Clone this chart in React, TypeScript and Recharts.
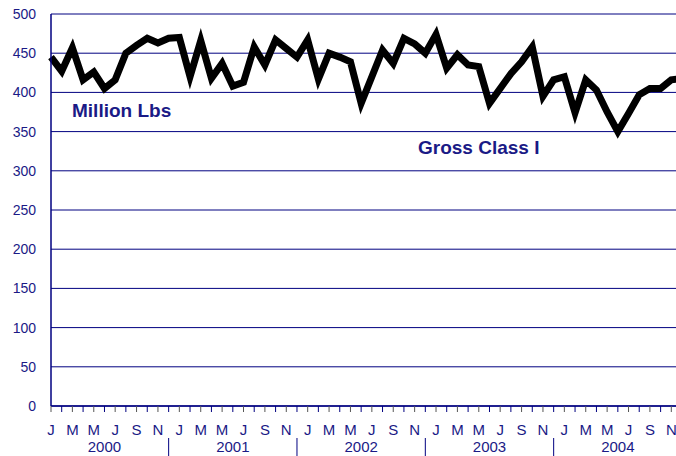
import { LineChart, Line, XAxis, YAxis, CartesianGrid } from "recharts"

const years = ["2000", "2001", "2002", "2003", "2004"]
const monthLetters = ["J", "F", "M", "A", "M", "J", "J", "A", "S", "O", "N", "D"]
const yTicks = [0, 50, 100, 150, 200, 250, 300, 350, 400, 450, 500]

// Gross Class I, million lbs, Jan 2000 - Dec 2004
const grossClassI = [
  445, 427, 457, 416, 426, 405, 416, 450, 460, 469, 463, 469,
  470, 420, 466, 418, 437, 408, 413, 458, 435, 467, 456, 445,
  467, 417, 450, 445, 439, 386, 420, 454, 437, 469, 462, 450,
  474, 431, 448, 435, 433, 386, 405, 424, 439, 458, 395, 416,
  420, 374, 416, 403, 375, 350, 373, 397, 405, 405, 416, 418,
]

const data = grossClassI.map((v, i) => ({
  m: monthLetters[i % 12],
  year: years[Math.floor(i / 12)],
  value: v,
}))

const navy = "#000080"
const textColor = "#1a1a86"
const font = "Arial, 'Liberation Sans', sans-serif"

function YTick(props: any) {
  const { y, payload } = props
  return (
    <text x={36} y={y + 5} textAnchor="end" fontSize={14} fontFamily={font} fill={textColor}>
      {payload.value}
    </text>
  )
}

function XTick(props: any) {
  const { x, y, payload } = props
  const i = props.index ?? payload.index
  const row = data[i]
  return (
    <g>
      <line x1={x} x2={x} y1={y} y2={y + 6} stroke={i % 2 === 0 ? "#555" : navy} strokeWidth={1} />
      {i % 2 === 0 && (
        <text x={x} y={435} textAnchor="middle" fontSize={15} fontFamily={font} fill={textColor}>
          {row.m}
        </text>
      )}
      {i % 12 === 5 && (
        <text x={x} y={452} textAnchor="middle" fontSize={15} fontFamily={font} fill={textColor}>
          {row.year}
        </text>
      )}
      {i % 12 === 11 && <line x1={x} x2={x} y1={438} y2={456} stroke={navy} strokeWidth={1} />}
    </g>
  )
}

const labelStyle = {
  position: "absolute" as const,
  fontFamily: font,
  fontWeight: 700,
  fontSize: 19,
  lineHeight: "19px",
  color: textColor,
  whiteSpace: "nowrap" as const,
}

export default function App() {
  return (
    <div style={{ position: "absolute", left: 0, top: 0, width: 676, height: 456, overflow: "hidden", background: "#fff" }}>
      <LineChart width={700} height={456} data={data} margin={{ top: 14, right: 18, bottom: 0, left: 0 }}>
        <CartesianGrid vertical={false} stroke={navy} strokeWidth={1} />
        <XAxis
          dataKey="m"
          interval={0}
          height={50}
          tickSize={0}
          tickMargin={0}
          tickLine={false}
          axisLine={{ stroke: navy, strokeWidth: 1.5 }}
          tick={<XTick />}
        />
        <YAxis
          domain={[0, 500]}
          ticks={yTicks}
          width={51}
          tickLine={false}
          axisLine={{ stroke: navy, strokeWidth: 1.5 }}
          tick={<YTick />}
        />
        <Line
          type="linear"
          dataKey="value"
          stroke="#000"
          strokeWidth={7}
          strokeLinejoin="miter"
          dot={false}
          isAnimationActive={false}
        />
      </LineChart>
      <div style={{ ...labelStyle, left: 72, top: 101 }}>Million Lbs</div>
      <div style={{ ...labelStyle, left: 418, top: 138 }}>Gross Class I</div>
    </div>
  )
}
